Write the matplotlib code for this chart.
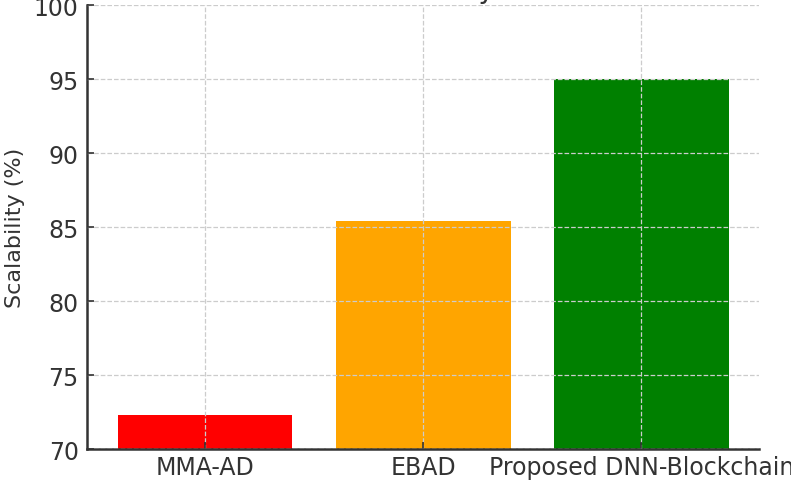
import matplotlib
matplotlib.use("Agg")
import matplotlib.pyplot as plt

#%% datos
metodos = ["MMA-AD", "EBAD", "Proposed DNN-Blockchain"]
escalabilidad = [72.3, 85.4, 95.0]
colores = ["red", "orange", "green"]

#%% grafico
gris = "#333333"
fig = plt.figure(figsize=(7.91, 4.81), dpi=100)
ax = fig.add_axes([0.110, 0.064, 0.850, 0.923])

ax.bar(metodos, escalabilidad, color=colores, width=0.8, zorder=1)
ax.set_ylim(70, 100)
ax.set_ylabel("Scalability (%)", fontsize=16, color=gris, labelpad=6)
ax.set_title("Scalability", fontsize=20, color=gris, pad=6)

ax.grid(True, linestyle="--", color="#cccccc", linewidth=0.9, zorder=2)
ax.set_axisbelow(False)
ax.tick_params(axis="both", direction="in", length=5, width=1.2,
               labelsize=17, colors=gris)
ax.tick_params(axis="x", pad=4)
ax.tick_params(axis="y", pad=6)

for lado in ["top", "right"]:
    ax.spines[lado].set_visible(False)
for lado in ["left", "bottom"]:
    ax.spines[lado].set_linewidth(1.8)
    ax.spines[lado].set_color(gris)

fig.savefig("out.png", dpi=100)
